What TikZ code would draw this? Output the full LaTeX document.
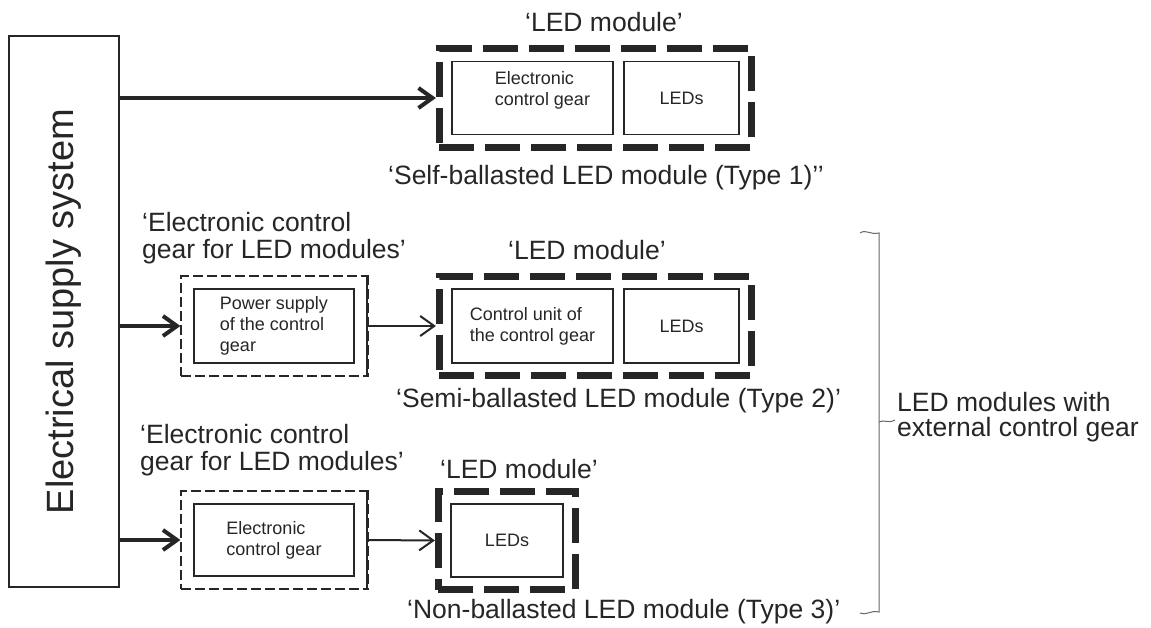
\documentclass[tikz,border=0pt]{standalone}
\usepackage{fontspec}
\setmainfont{Liberation Sans}
\usetikzlibrary{arrows.meta,fit}
\colorlet{ink}{black!85}
\tikzset{
  unit/.style={draw=ink, line width=1.2pt, align=left, inner sep=0pt, text=ink,
    font=\fontsize{18}{21}\selectfont},
  ledbox/.style={draw=ink, line width=7pt, dash pattern=on 35pt off 11pt, inner sep=12pt},
  gearbox/.style={draw=ink, line width=2pt, dash pattern=on 10pt off 4pt, inner sep=12pt},
  caption/.style={font=\fontsize{26.5}{27}\selectfont, text=ink, align=left, inner sep=0pt},
  feed/.style={draw=ink, line width=4pt, -{Straight Barb[length=14pt,width=20pt]}},
  link/.style={draw=ink, line width=2pt, -{Straight Barb[length=14pt,width=20pt]}},
  brace/.style={draw=black!60, line width=1pt}
}
\begin{document}
\begin{tikzpicture}[x=1pt, y=-1pt]
  \useasboundingbox (0,0) rectangle (1151,628);
  % supply
  \node [draw=ink, line width=1.2pt, rotate=90, minimum width=551pt, minimum height=110pt,
         text=ink, font=\fontsize{38}{40}\selectfont] (supply) at (64, 311.5)
        {Electrical supply system};

  % type 1
  \node [unit, minimum width=161pt, minimum height=73pt,
         label={[unit, draw=none, xshift=10pt, yshift=8pt]center:Electronic\\control gear}]
        (ecg1) at (532.5, 98) {};
  \node [unit, minimum width=115pt, minimum height=73pt] (led1) at (681.5, 98) {LEDs};
  \node [ledbox, fit=(ecg1) (led1)] (mod1) {};
  \node [caption, anchor=base] (lm1) at (604, 32) {‘LED module’};
  \node [caption, anchor=base west] (sb1) at (388, 185) {‘Self-ballasted LED module (Type 1)’’};
  \draw [feed] (supply.south |- mod1.west) -- (mod1.west);

  % type 2
  \node [unit, minimum width=160pt, minimum height=74pt] (psu2) at (274, 326)
        {Power supply\\of the control\\gear};
  \node [gearbox, fit=(psu2)] (gear2) {};
  \draw [ink, line width=3pt, dash pattern=on 10pt off 4pt] (gear2.north east) -- (gear2.south east);
  \node [unit, minimum width=161pt, minimum height=74pt] (ctl2) at (532.5, 326)
        {Control unit of\\the control gear};
  \node [unit, minimum width=115pt, minimum height=74pt] (led2) at (681.5, 326) {LEDs};
  \node [ledbox, fit=(ctl2) (led2)] (mod2) {};
  \node [caption, anchor=base west] (ec2) at (142, 259) {‘Electronic control\\gear for LED modules’};
  \node [caption, anchor=base west] (lm2) at (508, 260) {‘LED module’};
  \node [caption, anchor=base west] (sb2) at (396, 407) {‘Semi-ballasted LED module (Type 2)’};
  \draw [feed] (supply.south |- gear2.west) -- (gear2.west);
  \draw [link] (gear2.east) -- (mod2.west);

  % type 3
  \node [unit, minimum width=160pt, minimum height=72pt] (ecg3) at (274, 540)
        {Electronic\\control gear};
  \node [gearbox, fit=(ecg3)] (gear3) {};
  \draw [ink, line width=3pt, dash pattern=on 10pt off 4pt] (gear3.north east) -- (gear3.south east);
  \node [unit, minimum width=112pt, minimum height=73pt] (led3) at (507, 540.5) {LEDs};
  \node [ledbox, fit=(led3)] (mod3) {};
  \node [caption, anchor=base west] (ec3) at (140, 470) {‘Electronic control\\gear for LED modules’};
  \node [caption, anchor=base west] (lm3) at (440, 478) {‘LED module’};
  \node [caption, anchor=base west] (sb3) at (407, 618) {‘Non-ballasted LED module (Type 3)’};
  \draw [feed] (supply.south |- gear3.west) -- (gear3.west);
  \draw [link] (gear3.east) -- (mod3.west);

  % external gear brace
  \node [caption, font=\fontsize{26.5}{25}\selectfont, anchor=base west] (ext) at (897, 436)
        {LED modules with\\external control gear};
  \draw [brace] (860,233) .. controls (866,229) and (870,235) .. (879,233) -- (879,612)
                .. controls (870,610) and (866,616) .. (860,613);
  \draw [brace] (879,422) .. controls (884,419) and (888,424) .. (895,420);
\end{tikzpicture}
\end{document}
